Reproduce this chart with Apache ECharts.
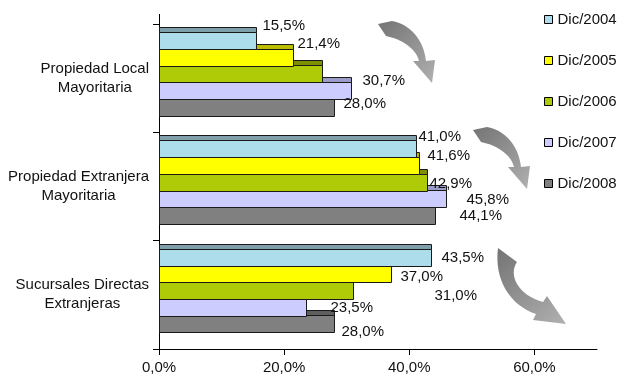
<!DOCTYPE html>
<html>
<head>
<meta charset="utf-8">
<script src="https://cdn.jsdelivr.net/npm/echarts@6/dist/echarts.min.js"></script>
<style>
  html, body { margin: 0; padding: 0; background: #ffffff; }
  #chart { width: 619px; height: 375px; }
</style>
</head>
<body>
<div id="chart"></div>
<script>
// ---- data ----
const categories = ['Propiedad Local\nMayoritaria', 'Propiedad Extranjera\nMayoritaria', 'Sucursales Directas\nExtranjeras'];
const seriesNames = ['Dic/2004', 'Dic/2005', 'Dic/2006', 'Dic/2007', 'Dic/2008'];
const dic2004 = [15.5, 41.0, 43.5];
const dic2005 = [21.4, 41.6, 37.0];
const dic2006 = [26.1, 42.9, 31.0];
const dic2007 = [30.7, 45.8, 23.5];
const dic2008 = [28.0, 44.1, 28.0];
const xTicks = [0, 20, 40, 60];
// value labels printed per series / category (the 2006 local bar carries none)
const labelShown = [
  [true, true, true],
  [true, true, true],
  [false, true, true],
  [true, true, true],
  [true, true, true]
];

const seriesValues = [dic2004, dic2005, dic2006, dic2007, dic2008];

// ---- styling ----
const FONT = '"Liberation Sans", Arial, sans-serif';
const frontColors = ['#ADDCEB', '#FFFF00', '#AFCB08', '#CCCCFF', '#808080'];
const topColors = ['#7FA0AB', '#BDBD00', '#7E9000', '#9C9CC8', '#5E5E5E'];
// label nudges [dx, dy] from the bar end / bar middle, per series and category
const labelShift = [
  [[6, -15], [2, -12], [10, 0]],
  [[4, -14], [8, -10], [9, 3]],
  [null, [2, 1], [81, 5]],
  [[11, -10], [20, 1], [24, 0]],
  [[9, -4], [24, 0], [7, 8]]
];

function pct(v) {
  return v.toFixed(1).replace('.', ',') + '%';
}

// geometry of one bar (front face + top face) inside its category band
function barGeom(api, s, cat, val) {
  const band = api.size([0, 1])[1];
  const base = api.coord([0, cat]);
  const x0 = Math.round(base[0]) + 0.5;
  const x1 = Math.round(api.coord([val, cat])[0]) + 0.5;
  const h = band * 0.154;
  const top = Math.round(base[1] - band / 2 + band * 0.074 + s * h) + 0.5;
  const depth = Math.round(band * 0.046);
  return { x0: x0, x1: x1, top: top, h: Math.round(h), depth: depth };
}

function barRenderer(s) {
  return function (params, api) {
    const val = api.value(0);
    const cat = api.value(1);
    const g = barGeom(api, s, cat, val);
    return {
      type: 'group',
      children: [
        {
          type: 'rect',
          shape: { x: g.x0, y: g.top - g.depth, width: g.x1 - g.x0, height: g.depth },
          style: { fill: topColors[s], stroke: '#1a1a1a', lineWidth: 1 }
        },
        {
          type: 'rect',
          shape: { x: g.x0, y: g.top, width: g.x1 - g.x0, height: g.h },
          style: { fill: frontColors[s], stroke: '#1a1a1a', lineWidth: 1 }
        }
      ]
    };
  };
}

const barSeries = seriesNames.map(function (name, s) {
  return {
    name: name,
    type: 'custom',
    z: 10 - s,
    renderItem: barRenderer(s),
    encode: { x: 0, y: 1 },
    itemStyle: { color: frontColors[s], borderColor: '#000', borderWidth: 1 },
    data: seriesValues[s].map(function (v, c) { return [v, c]; })
  };
});

// value labels, drawn above every bar
const labelData = [];
seriesValues.forEach(function (vals, s) {
  vals.forEach(function (v, c) {
    if (labelShown[s][c]) labelData.push([v, c, s]);
  });
});

const labelSeries = {
  name: 'labels',
  type: 'custom',
  z: 20,
  silent: true,
  encode: { x: 0, y: 1 },
  renderItem: function (params, api) {
    const val = api.value(0);
    const cat = api.value(1);
    const s = api.value(2);
    const g = barGeom(api, s, cat, val);
    const sh = labelShift[s][cat] || [6, 0];
    return {
      type: 'text',
      x: g.x1 + sh[0],
      y: g.top + g.h / 2 + sh[1],
      style: {
        text: pct(val),
        font: '15px ' + FONT,
        fill: '#111',
        align: 'left',
        verticalAlign: 'middle'
      }
    };
  },
  data: labelData
};

// decorative curved arrows between the groups
const arrowPath = 'M378 24 L392 21 C410 24 424 40 426 61 L435 60 L432 83 L413 61 L419 61 ' +
  'C416 48 401 39 386 36 Z';
const arrow3Path = 'M498 248 L517 262 C508 275 518 295 543 302 L547 296 L566 324 L533 320 L536 314 ' +
  'C510 305 494 280 498 248 Z';
const arrowFill = {
  type: 'linear', x: 0, y: 0, x2: 1, y2: 1,
  colorStops: [{ offset: 0, color: '#747474' }, { offset: 1, color: '#b0b0b0' }]
};

const arrowSeries = {
  name: 'arrows',
  type: 'custom',
  z: 1,
  silent: true,
  encode: { x: 0, y: 1 },
  renderItem: function (params, api) {
    return {
      type: 'group',
      children: [
        { type: 'path', shape: { pathData: arrowPath }, style: { fill: arrowFill } },
        { type: 'path', x: 95, y: 106, shape: { pathData: arrowPath }, style: { fill: arrowFill } },
        { type: 'path', shape: { pathData: arrow3Path }, style: { fill: arrowFill } }
      ]
    };
  },
  data: [[0, 0]]
};

const chart = echarts.init(document.getElementById('chart'), null, { renderer: 'canvas' });

chart.setOption({
  backgroundColor: '#ffffff',
  animation: false,
  textStyle: { fontFamily: FONT },
  grid: { left: 159, right: 22, top: 24, bottom: 26, containLabel: false },
  legend: {
    orient: 'vertical',
    left: 539,
    top: 7,
    itemWidth: 8,
    itemHeight: 8,
    itemGap: 26,
    icon: 'rect',
    selectedMode: false,
    textStyle: { fontFamily: FONT, fontSize: 15, color: '#111' },
    data: seriesNames.map(function (n, s) {
      return { name: n, itemStyle: { color: frontColors[s], borderColor: '#000', borderWidth: 1 } };
    })
  },
  xAxis: {
    type: 'value',
    min: 0,
    max: 70,
    interval: 20,
    splitLine: { show: false },
    axisLine: { show: true, lineStyle: { color: '#000', width: 1 } },
    axisTick: { show: true, length: 6, customValues: xTicks, lineStyle: { color: '#000' } },
    axisLabel: {
      customValues: xTicks,
      margin: 11,
      fontSize: 15,
      fontFamily: FONT,
      color: '#111',
      formatter: function (v) { return pct(v); }
    }
  },
  yAxis: {
    type: 'category',
    inverse: true,
    data: categories,
    axisLine: { show: true, lineStyle: { color: '#000', width: 1 } },
    axisTick: { show: true, length: 6, lineStyle: { color: '#000' } },
    axisLabel: {
      margin: 10,
      formatter: function (v) {
        return v.split('\n').map(function (line) { return '{c|' + line + '}'; }).join('\n');
      },
      rich: {
        c: { fontSize: 15, fontFamily: FONT, color: '#111', align: 'center', lineHeight: 19 }
      }
    }
  },
  graphic: [
    { type: 'line', shape: { x1: 159.5, y1: 14, x2: 159.5, y2: 24 }, style: { stroke: '#000', lineWidth: 1 } }
  ],
  series: barSeries.concat([labelSeries, arrowSeries])
});
</script>
</body>
</html>
